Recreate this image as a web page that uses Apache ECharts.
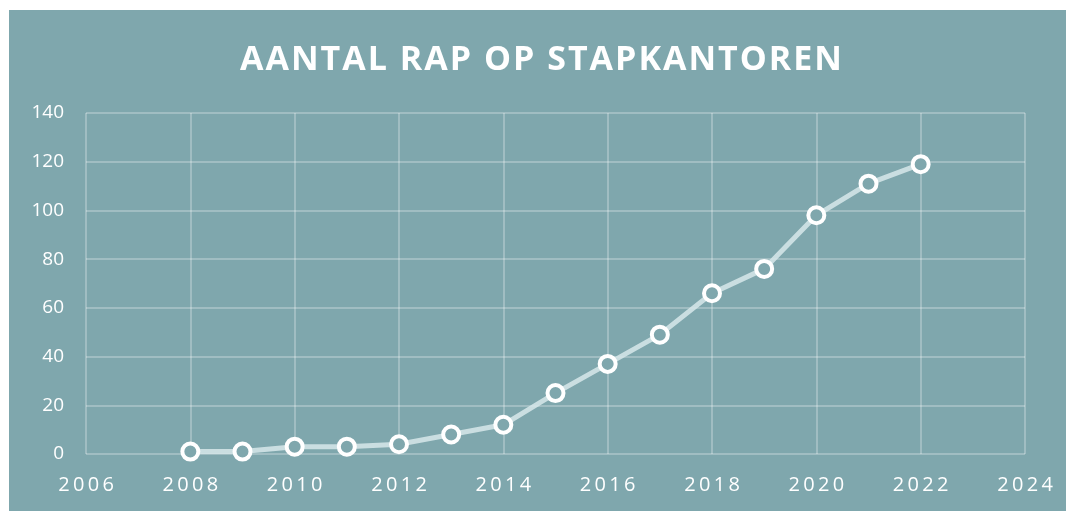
<!DOCTYPE html>
<html><head><meta charset="utf-8">
<script src="https://cdn.jsdelivr.net/npm/echarts@6/dist/echarts.min.js"></script>
<style>
html,body{margin:0;padding:0;background:#fff;width:1066px;height:511px;overflow:hidden}
#bg{position:absolute;left:9px;top:10px;width:1057px;height:501px;background:#7FA7AD}
#c{position:absolute;left:0;top:0;width:1066px;height:511px}
</style></head>
<body><div id="bg"></div><div id="c"></div>
<script>
const titleText = 'AANTAL RAP OP STAPKANTOREN';
const years = [2008,2009,2010,2011,2012,2013,2014,2015,2016,2017,2018,2019,2020,2021,2022];
const values = [1,1,3,3,4,8,12,25,37,49,66,76,98,111,119];
const xTicks = {min:2006, max:2024, interval:2};
const yTicks = {min:0, max:140, interval:20};

const spaced = (s, sp) => String(s).split('').join(sp);
const chart = echarts.init(document.getElementById('c'), null, {renderer:'canvas'});
chart.setOption({
  backgroundColor:'transparent',
  animation:false,
  title:{text:spaced(titleText, '{s|\u200A}'), left:536, textAlign:'center', top:35,
    textStyle:{color:'#fff', fontFamily:'Open Sans', fontWeight:'bold', fontSize:34, lineHeight:40,
      rich:{s:{fontFamily:'Open Sans', fontSize:20, lineHeight:40}}}},
  grid:{left:86, right:41, top:113, bottom:57, containLabel:false},
  xAxis:{type:'value', min:xTicks.min, max:xTicks.max, interval:xTicks.interval,
    axisLine:{show:false}, axisTick:{show:false},
    splitLine:{show:true, lineStyle:{color:'rgba(255,255,255,0.35)', width:1.5}},
    axisLabel:{color:'#fff', fontFamily:'Open Sans', fontSize:20, margin:21,
      formatter:v=>spaced(v, '\u2009')}},
  yAxis:{type:'value', min:yTicks.min, max:yTicks.max, interval:yTicks.interval,
    axisLine:{show:false}, axisTick:{show:false},
    splitLine:{show:true, lineStyle:{color:'rgba(255,255,255,0.35)', width:1.5}},
    axisLabel:{color:'#fff', fontFamily:'Open Sans', fontSize:19, margin:22}},
  series:[{type:'line', data:years.map((y,i)=>[y,values[i]]),
    lineStyle:{color:'rgba(215,232,234,0.85)', width:5},
    symbol:'circle', symbolSize:16,
    itemStyle:{color:'#7FA7AD', borderColor:'#fff', borderWidth:4}}]
});
</script></body></html>
